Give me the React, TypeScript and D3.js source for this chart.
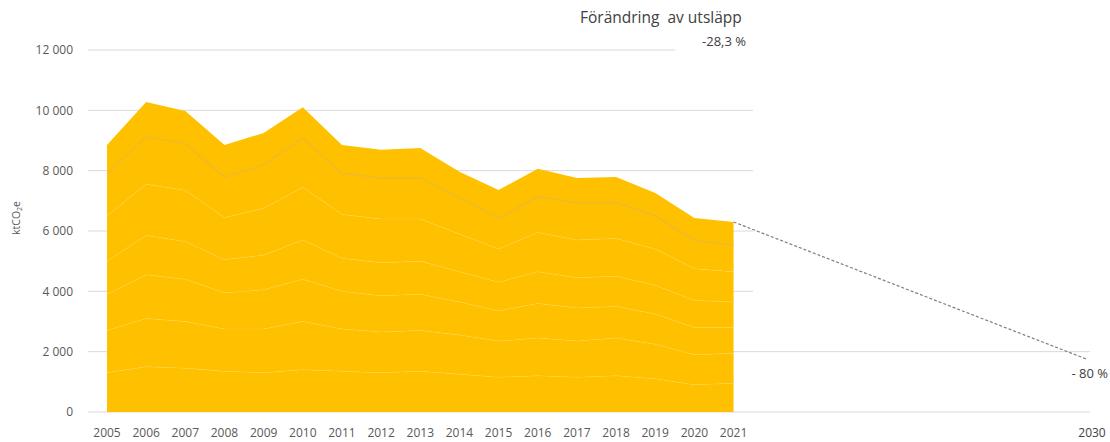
import React from "react";
import * as d3 from "d3";

const years = [2005, 2006, 2007, 2008, 2009, 2010, 2011, 2012, 2013, 2014, 2015, 2016, 2017, 2018, 2019, 2020, 2021];
const layer1 = [1300, 1500, 1450, 1350, 1300, 1400, 1350, 1300, 1350, 1250, 1150, 1200, 1150, 1200, 1100, 900, 950];
const layer2 = [1400, 1600, 1550, 1400, 1450, 1600, 1400, 1350, 1350, 1300, 1200, 1250, 1200, 1250, 1150, 1000, 1000];
const layer3 = [1200, 1450, 1400, 1200, 1300, 1400, 1250, 1200, 1200, 1100, 1000, 1150, 1100, 1050, 1000, 900, 850];
const layer4 = [1100, 1300, 1250, 1100, 1150, 1300, 1100, 1100, 1100, 1000, 950, 1050, 1000, 1000, 950, 900, 850];
const layer5 = [1500, 1700, 1700, 1400, 1550, 1750, 1450, 1450, 1400, 1250, 1100, 1300, 1250, 1250, 1200, 1050, 1000];
const layer6 = [1400, 1570, 1550, 1340, 1450, 1630, 1350, 1360, 1360, 1200, 1030, 1180, 1230, 1200, 1100, 950, 890];
const layer7 = [950, 1160, 1080, 1060, 1050, 1020, 950, 930, 990, 860, 930, 930, 830, 840, 760, 730, 760];
const layers = [layer1, layer2, layer3, layer4, layer5, layer6, layer7];

const yTicks = [0, 2000, 4000, 6000, 8000, 10000, 12000];
const targetYear = 2030;
const targetValue = 1760;
const titleText = "Förändring  av utsläpp";
const changeText = "-28,3 %";
const targetText = "- 80 %";

const W = 1110;
const H = 442;
const FONT = "'Open Sans', 'Noto Sans', sans-serif";

export default function App() {
  const x = d3.scaleLinear().domain([2005, 2030]).range([107, 1086]);
  const y = d3.scaleLinear().domain([0, 12000]).range([412, 50]);

  const rows = years.map((yr, i) => {
    const r: any = { year: yr };
    layers.forEach((l, k) => (r["s" + k] = l[i]));
    return r;
  });
  const keys = layers.map((_, k) => "s" + k);
  const stacked = d3.stack().keys(keys)(rows as any);

  const area = d3
    .area<any>()
    .x((d) => x(d.data.year))
    .y0((d) => y(d[0]))
    .y1((d) => y(d[1]));
  const topLine = d3
    .line<any>()
    .x((d) => x(d.data.year))
    .y((d) => y(d[1]));

  const totals = years.map((_, i) => layers.reduce((s, l) => s + l[i], 0));
  const lastYear = years[years.length - 1];
  const lastTotal = totals[totals.length - 1];

  const gridEnd = (v: number) => (v === 12000 ? 675 : v >= 4000 ? 753 : 1090);

  const formatTick = (v: number) =>
    v >= 1000 ? `${Math.floor(v / 1000)} ${String(v % 1000).padStart(3, "0")}` : String(v);

  return (
    <div style={{ position: "absolute", left: 0, top: 0 }}>
      <svg width={W} height={H} style={{ display: "block", background: "#fff" }}>
        {yTicks.map((v) => (
          <line key={"g" + v} x1={88} x2={gridEnd(v)} y1={y(v)} y2={y(v)} stroke="#d9d9d9" strokeWidth={1} />
        ))}
        {yTicks.map((v) => (
          <text
            key={"t" + v}
            x={73}
            y={y(v)}
            dy="0.35em"
            textAnchor="end"
            fontFamily={FONT}
            fontSize={12}
            fill="#595959"
          >
            {formatTick(v)}
          </text>
        ))}
        <text
          transform={`translate(20,${218}) rotate(-90)`}
          textAnchor="middle"
          fontFamily={FONT}
          fontSize={10.5}
          fill="#595959"
        >
          ktCO<tspan fontSize={7} dy="2">2</tspan>
          <tspan dy="-2">e</tspan>
        </text>

        {stacked.map((s, k) => (
          <path key={"a" + k} d={area(s as any) || ""} fill="#FFC000" stroke="none" />
        ))}
        {stacked.slice(0, stacked.length - 2).map((s, k) => (
          <path
            key={"l" + k}
            d={topLine(s as any) || ""}
            fill="none"
            stroke="#FFD24A"
            strokeWidth={1}
            opacity={0.4}
          />
        ))}
        <path
          d={topLine(stacked[stacked.length - 2] as any) || ""}
          fill="none"
          stroke="#E5B537"
          strokeWidth={1.2}
          opacity={0.85}
        />

        <line
          x1={x(lastYear)}
          y1={y(lastTotal)}
          x2={x(targetYear)}
          y2={y(targetValue)}
          stroke="#7f7f7f"
          strokeWidth={1.2}
          strokeDasharray="3,2"
        />

        {years.map((yr) => (
          <text
            key={"x" + yr}
            x={x(yr)}
            y={437}
            textAnchor="middle"
            fontFamily={FONT}
            fontSize={12}
            fill="#595959"
          >
            {yr}
          </text>
        ))}
        <text x={1092} y={437} textAnchor="middle" fontFamily={FONT} fontSize={12} fill="#404040">
          {targetYear}
        </text>

        <text x={580} y={23} fontFamily={FONT} fontSize={15.5} fill="#404040" style={{ whiteSpace: "pre" }}>
          {titleText}
        </text>
        <text x={746} y={46} textAnchor="end" fontFamily={FONT} fontSize={13} fill="#404040">
          {changeText}
        </text>
        <text x={1108} y={378} textAnchor="end" fontFamily={FONT} fontSize={13} fill="#404040">
          {targetText}
        </text>
      </svg>
    </div>
  );
}
